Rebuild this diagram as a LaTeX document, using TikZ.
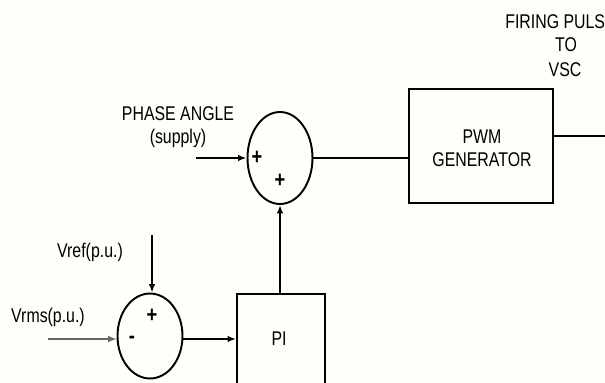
\documentclass[tikz,border=0pt]{standalone}
\usepackage{fontspec}
\setmainfont{Liberation Sans}[FakeStretch=0.8]
\usetikzlibrary{arrows.meta,shapes.geometric}
\definecolor{bgc}{HTML}{FEFEFB}
\tikzset{
  wire/.style={line width=1.1pt,black},
  thinwire/.style={line width=0.6pt,black!60},
  arr/.style={-{Latex[length=0.17cm,width=0.13cm]}},
  sumnode/.style={draw,line width=1.1pt,ellipse,inner sep=0pt,minimum width=1.3cm},
  blockbox/.style={draw,line width=1.1pt,rectangle,inner sep=0pt},
  lbl/.style={font=\fontsize{11.3}{13.3}\selectfont,inner sep=0pt,align=center},
  sgn/.style={font=\fontsize{13}{15}\selectfont\bfseries,inner sep=0pt}
}
\begin{document}
\begin{tikzpicture}[x=0.02cm,y=-0.02cm]
\fill[bgc] (0,0) rectangle (605,382);
\clip (0,0) rectangle (605,382);
\useasboundingbox (0,0) rectangle (605,382);
% summing junctions
\node[sumnode,minimum height=1.84cm] (s2) at (280,158) {};
\node[sumnode,minimum height=1.7cm] (s1) at (150,336) {};
% blocks
\node[blockbox,minimum width=2.88cm,minimum height=2.28cm] (pwm) at (481,146) {};
\node[lbl] (pwmt) at (482,148) {PWM\\GENERATOR};
\node[blockbox,minimum width=1.76cm,minimum height=2.2cm] (pi) at (281,349) {};
\node[lbl] (pit) at (279,339) {PI};
% signs
\node[sgn] (p1) at (257,158) {+};
\node[sgn] (p2) at (280,181) {+};
\node[sgn] (p3) at (152,316) {+};
\node[sgn] (m1) at (132,340) {-};
% labels
\node[lbl] (phase) at (178,127) {PHASE ANGLE\\(supply)};
\node[lbl] (vref) at (90,252) {Vref(p.u.)};
\node[lbl] (vrms) at (48,317) {Vrms(p.u.)};
\node[lbl,anchor=west] (fire) at (505,22) {FIRING PULS};
\node[lbl] (to) at (566,45) {TO};
\node[lbl] (vsc) at (565,70) {VSC};
% free ends
\coordinate (phin) at (196,158);
\coordinate (vrefin) at (152,235);
\coordinate (vrmsin) at (48,339);
\coordinate (fireout) at (610,136);
% connectors
\draw[wire,arr] (phin) -- (s2.west);
\draw[wire] (s2.east) -- (s2.east -| pwm.west);
\draw[wire] (pwm.east |- fireout) -- (fireout);
\draw[wire,arr] (pi.north -| s2.south) -- (s2.south);
\draw[wire,arr] (vrefin) -- (vrefin |- s1.north);
\draw[thinwire,arr] (vrmsin) -- (vrmsin -| s1.west);
\draw[wire,arr] (s1.east |- 0,339) -- (pi.west |- 0,339);
\end{tikzpicture}
\end{document}
